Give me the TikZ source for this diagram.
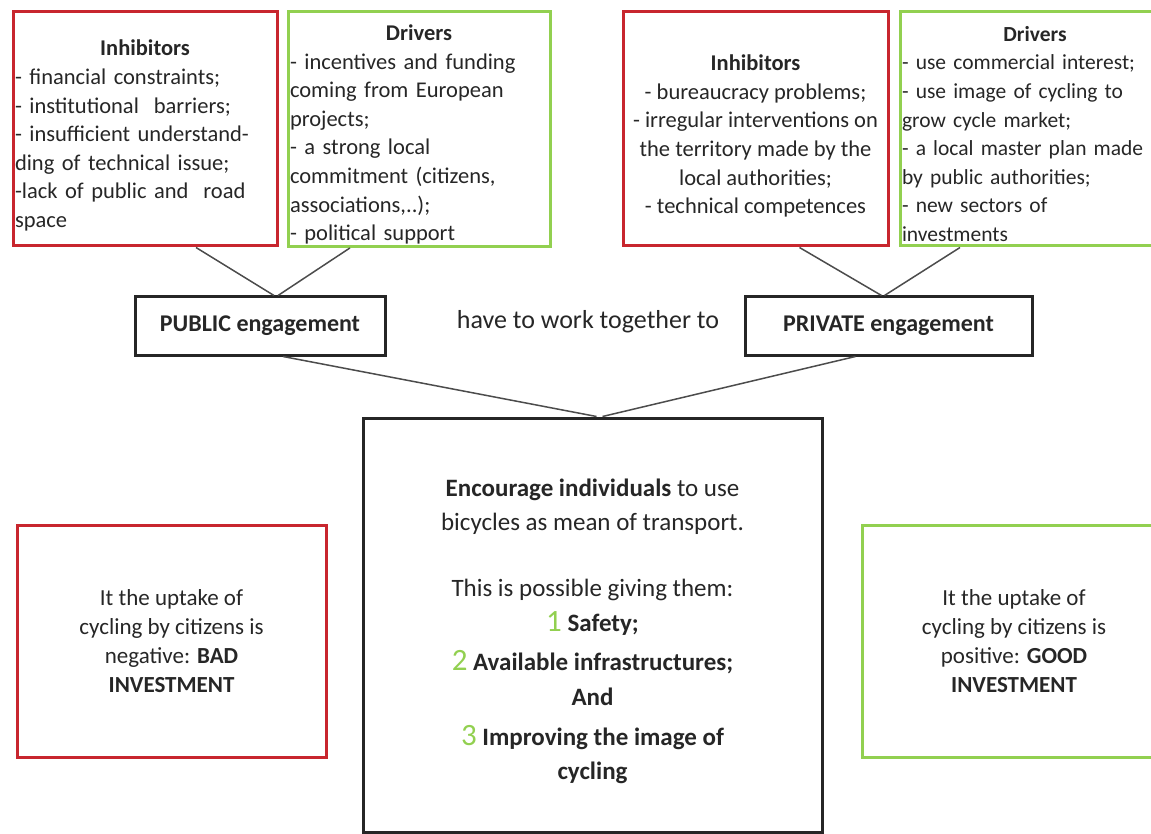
\documentclass[tikz,border=0pt]{standalone}
\usepackage{fontspec}
\setmainfont{Carlito}
\definecolor{inhred}{RGB}{200,38,46}
\definecolor{drvgreen}{RGB}{146,208,80}
\newcommand\topsize{\fontsize{22.5}{28.6}\selectfont}
\newcommand\engsize{\fontsize{24}{28}\selectfont}
\newcommand\joinsize{\fontsize{26}{30}\selectfont}
\newcommand\sidesize{\fontsize{23}{28.8}\selectfont}
\newcommand\goalsize{\fontsize{25}{34}\selectfont}
\newcommand\goalnum[1]{{\color{drvgreen}\fontsize{31}{34}\selectfont #1}}
\begin{document}
\begin{tikzpicture}
[
    x=1pt, y=-1pt,
    every node/.style={text=black!85, inner sep=2pt},
    inh/.style={draw=inhred, line width=3pt, minimum height=234pt, font=\topsize},
    drv/.style={draw=drvgreen, line width=3pt, minimum height=234pt, font=\topsize, align=left},
    eng/.style={draw=black!85, line width=3pt, minimum height=58pt, font=\engsize\bfseries},
    outcome/.style={line width=3pt, minimum height=232pt, align=center, font=\sidesize},
    goal/.style={draw=black!85, line width=3pt, minimum width=459pt, minimum height=414pt, align=center, font=\goalsize},
    link/.style={draw=black!70, line width=1.5pt},
]
\useasboundingbox (0,0) rectangle (1151,834);

\node[inh, text width=260pt, align=left] (pubinh) at (145,129) {{\centering\rule{0pt}{29pt}\bfseries Inhibitors\par}
    - financial constraints;\\- institutional\ \ barriers;\\- insufficient understand-\\ding of technical issue;\\-lack of public and\ \ road\\space};
\node[drv, text width=258pt] (pubdrv) at (419,129) {{\centering\rule{0pt}{27pt}\bfseries Drivers\par}
    - incentives and funding\\coming from European\\projects;\\- a strong local\\commitment (citizens,\\associations,..);\\- political support};
\node[inh, minimum width=265pt, align=center] (privinh) at (755.5,129) {\rule{0pt}{30pt}\textbf{Inhibitors}\\- bureaucracy problems;\\- irregular interventions on\\the territory made by the\\local authorities;\\- technical competences};
\node[drv, text width=266pt, font=\fontsize{21.5}{28.6}\selectfont] (privdrv) at (1035,129) {{\centering\rule{0pt}{25pt}\bfseries Drivers\par}
    - use commercial interest;\\- use image of cycling to\\grow cycle market;\\- a local master plan made\\by public authorities;\\- new sectors of\\investments};

\node[eng, minimum width=250pt] (pub) at (260,326) {PUBLIC engagement};
\node[eng, minimum width=287pt] (priv) at (888.5,326) {PRIVATE engagement};
\node[font=\joinsize] (join) at (588,322) {have to work together to};

\node[goal] (goal) at (592.5,625) {\rule{0pt}{30pt}\textbf{Encourage individuals} to use\\
    bicycles as mean of transport.\\[32pt]
    This is possible giving them:\\[1pt]
    \goalnum{1} \textbf{Safety;}\\[5pt]
    \goalnum{2} \textbf{Available infrastructures;}\\[1pt]
    \textbf{And}\\[6pt]
    \goalnum{3} \textbf{Improving the image of}\\
    \textbf{cycling}};

\node[outcome, draw=inhred, minimum width=309pt] (bad) at (171.5,641) {It the uptake of\\cycling by citizens is\\negative: \textbf{BAD}\\\textbf{INVESTMENT}};
\node[outcome, draw=drvgreen, minimum width=304pt] (good) at (1014,641) {It the uptake of\\cycling by citizens is\\positive: \textbf{GOOD}\\\textbf{INVESTMENT}};

\draw[link] ([xshift=51pt]pubinh.south) -- ([xshift=14pt]pub.north);
\draw[link] ([xshift=-69pt]pubdrv.south) -- ([xshift=18pt]pub.north);
\draw[link] ([xshift=44pt]privinh.south) -- ([xshift=-7pt]priv.north);
\draw[link] ([xshift=-75pt]privdrv.south) -- ([xshift=-4pt]priv.north);
\draw[link] ([xshift=23pt]pub.south) -- ([xshift=4pt]goal.north);
\draw[link] ([xshift=-33pt]priv.south) -- ([xshift=10pt]goal.north);
\end{tikzpicture}
\end{document}
